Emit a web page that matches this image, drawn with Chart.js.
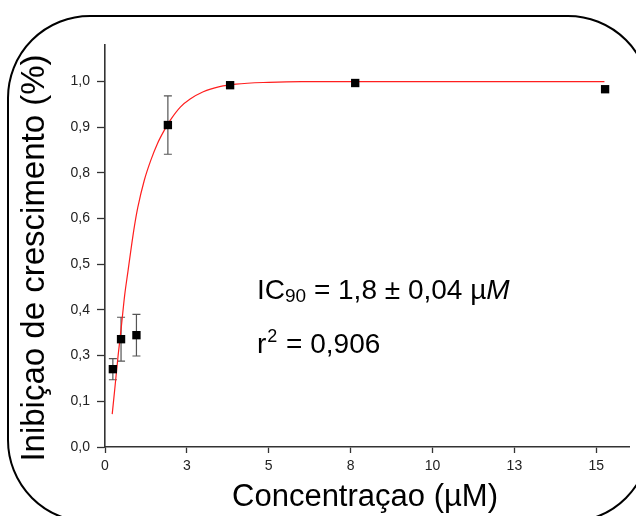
<!DOCTYPE html>
<html>
<head>
<meta charset="utf-8">
<script src="https://cdn.jsdelivr.net/npm/chart.js@4/dist/chart.umd.min.js"></script>
<style>
  html, body { margin: 0; padding: 0; background: #fff; }
  #wrap { width: 636px; height: 516px; position: relative; }
</style>
</head>
<body>
<div id="wrap"><canvas id="c" width="636" height="516"></canvas></div>
<script>
// ---- data ----
const concentrations = [0.24, 0.49, 0.96, 1.92, 3.82, 7.64, 15.27];
const inhibition     = [0.213, 0.295, 0.306, 0.881, 0.990, 0.996, 0.979];
const inhibitionErr  = [0.029, 0.060, 0.057, 0.080, 0, 0, 0];

const fitX = [0.22, 0.3, 0.4, 0.5, 0.6, 0.7, 0.8, 0.9, 1.0, 1.2, 1.4, 1.6, 1.8, 2.0, 2.3, 2.6, 3.0, 3.5, 4.0, 5.0, 6.0, 8.0, 10, 12, 15.25];
const fitY = [0.09, 0.16, 0.25, 0.33, 0.415, 0.48, 0.545, 0.605, 0.655, 0.73, 0.785, 0.83, 0.865, 0.895, 0.93, 0.952, 0.972, 0.986, 0.993, 0.998, 1.0, 1.0, 1.0, 1.0, 1.0];

const xTickValues = [0, 2.5, 5, 7.5, 10, 12.5, 15];
const xTickLabels = ['0', '3', '5', '8', '10', '13', '15'];
const yTickValues = [0, 0.125, 0.25, 0.375, 0.5, 0.625, 0.75, 0.875, 1.0];
const yTickLabels = ['0,0', '0,1', '0,3', '0,4', '0,5', '0,6', '0,8', '0,9', '1,0'];

const xTitle = 'Concentraçao (µM)';
const yTitle = 'Inibiçao de crescimento (%)';
const icLabel = ['IC', '90', ' = 1,8 ± 0,04 µ', 'M'];
const r2Label = ['r', '2', ' = 0,906'];

const FONT = "'Liberation Sans', Arial, Helvetica, sans-serif";

const errorBars = {
  id: 'errorBars',
  beforeDatasetsDraw(chart) {
    const {ctx, scales: {x, y}} = chart;
    ctx.save();
    ctx.strokeStyle = '#555';
    ctx.lineWidth = 1.2;
    concentrations.forEach((c, i) => {
      const e = inhibitionErr[i];
      if (!e) return;
      const px = x.getPixelForValue(c);
      const top = y.getPixelForValue(inhibition[i] + e);
      const bot = y.getPixelForValue(inhibition[i] - e);
      ctx.beginPath();
      ctx.moveTo(px, top); ctx.lineTo(px, bot);
      ctx.moveTo(px - 4, top); ctx.lineTo(px + 4, top);
      ctx.moveTo(px - 4, bot); ctx.lineTo(px + 4, bot);
      ctx.stroke();
    });
    ctx.restore();
  }
};

const decorations = {
  id: 'decorations',
  afterDraw(chart) {
    const ctx = chart.ctx;
    const area = chart.chartArea;
    ctx.save();
    // frame
    ctx.strokeStyle = '#000';
    ctx.lineWidth = 2;
    ctx.beginPath();
    ctx.roundRect(8, 16, 642, 506, 82);
    ctx.stroke();

    ctx.fillStyle = '#000';
    // axis titles
    ctx.textAlign = 'center';
    ctx.textBaseline = 'alphabetic';
    ctx.font = '31px ' + FONT;
    ctx.fillText(xTitle, (area.left + area.right) / 2 - 2, 506);
    ctx.save();
    ctx.translate(44, 258);
    ctx.rotate(-Math.PI / 2);
    ctx.font = '33px ' + FONT;
    ctx.fillText(yTitle, 0, 0);
    ctx.restore();

    // annotation
    ctx.textAlign = 'left';
    let x0 = 257, base = 299;
    ctx.font = '28px ' + FONT;
    ctx.fillText(icLabel[0], x0, base);
    x0 += ctx.measureText(icLabel[0]).width;
    ctx.font = '19px ' + FONT;
    ctx.fillText(icLabel[1], x0, base + 3);
    x0 += ctx.measureText(icLabel[1]).width;
    ctx.font = '28px ' + FONT;
    ctx.fillText(icLabel[2], x0, base);
    x0 += ctx.measureText(icLabel[2]).width;
    ctx.font = 'italic 28px ' + FONT;
    ctx.fillText(icLabel[3], x0, base);

    x0 = 257; base = 353;
    ctx.font = '28px ' + FONT;
    ctx.fillText(r2Label[0], x0, base);
    x0 += ctx.measureText(r2Label[0]).width + 1;
    ctx.font = '18px ' + FONT;
    ctx.fillText(r2Label[1], x0, base - 11);
    x0 += ctx.measureText(r2Label[1]).width + 1;
    ctx.font = '28px ' + FONT;
    ctx.fillText(r2Label[2], x0, base);
    ctx.restore();
  }
};

new Chart(document.getElementById('c'), {
  type: 'scatter',
  data: {
    datasets: [
      {
        label: 'fit',
        type: 'line',
        data: fitX.map((v, i) => ({x: v, y: fitY[i]})),
        borderColor: 'rgb(255,30,30)',
        borderWidth: 1.2,
        pointRadius: 0,
        fill: false,
        cubicInterpolationMode: 'monotone',
        order: 2
      },
      {
        label: 'mean',
        data: concentrations.map((v, i) => ({x: v, y: inhibition[i]})),
        pointStyle: 'rect',
        pointRadius: 5.9,
        pointHoverRadius: 5.9,
        backgroundColor: '#000',
        borderColor: '#000',
        borderWidth: 0,
        order: 1
      }
    ]
  },
  options: {
    responsive: false,
    animation: false,
    events: [],
    layout: { padding: { left: 0, right: 7, top: 45, bottom: 0 } },
    plugins: { legend: { display: false }, tooltip: { enabled: false } },
    scales: {
      x: {
        type: 'linear',
        min: 0, max: 16,
        afterFit: s => { s.height = 69; },
        afterBuildTicks: s => { s.ticks = xTickValues.map(v => ({value: v})); },
        grid: { drawOnChartArea: false, drawTicks: true, tickLength: 6, tickColor: '#333', tickWidth: 1.3 },
        border: { display: true, color: '#333', width: 1.6 },
        ticks: {
          color: '#222', padding: 5, maxRotation: 0, autoSkip: false,
          font: { family: FONT, size: 14 },
          callback: (v, i) => xTickLabels[i]
        }
      },
      y: {
        type: 'linear',
        min: 0, max: 1.1,
        afterFit: s => { s.width = 105; },
        afterBuildTicks: s => { s.ticks = yTickValues.map(v => ({value: v})); },
        grid: { drawOnChartArea: false, drawTicks: true, tickLength: 8, tickColor: '#333', tickWidth: 1.3 },
        border: { display: true, color: '#333', width: 1.6 },
        ticks: {
          color: '#222', padding: 7, autoSkip: false,
          font: { family: FONT, size: 14 },
          callback: (v, i) => yTickLabels[i]
        }
      }
    }
  },
  plugins: [errorBars, decorations]
});
</script>
</body>
</html>
